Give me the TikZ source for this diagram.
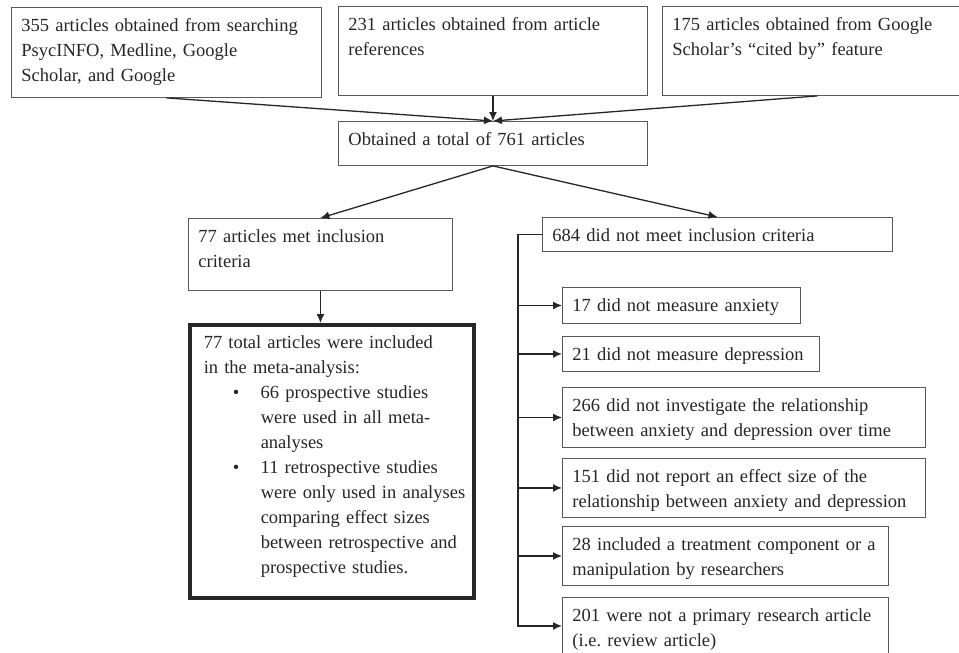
\documentclass[tikz,border=0pt]{standalone}
\usepackage{fontspec}
\setmainfont{Liberation Serif}
\usetikzlibrary{arrows.meta,positioning}
\newcommand{\bitem}{\makebox[57pt][l]{\hspace*{29pt}\textbullet}}
\newcommand{\bcont}{\hspace*{57pt}}

\begin{document}
\begin{tikzpicture}[x=1pt, y=-1pt,
  box/.style={draw=black!65, line width=0.9pt, anchor=north west, align=left,
              inner xsep=10pt, inner ysep=0pt, text height=24pt,
              font=\fontsize{18.5}{25}\selectfont, text=black!85},
  final/.style={box, draw=black!85, line width=3.5pt, inner xsep=14pt},
  arrow/.style={-{Latex[length=9pt,width=8pt]}, line width=1.3pt, black!85},
  link/.style={line width=1.3pt, black!85}
]
\useasboundingbox (0,0) rectangle (959,653);
\node[box, text width=290pt, text depth=66pt] (search) at (11,7)
  {355 articles obtained from searching\\PsycINFO, Medline, Google\\Scholar, and Google};
\node[box, text width=289pt, text depth=65pt] (refs) at (338,6)
  {231 articles obtained from article\\references};
\node[box, text width=290pt, text depth=65pt] (cited) at (662,6)
  {175 articles obtained from Google\\Scholar's ``cited by'' feature};
\node[box, text width=289pt, text depth=20pt] (total) at (338,121)
  {Obtained a total of 761 articles};
\node[box, text width=244pt, text depth=48pt] (met) at (188,218)
  {77 articles met inclusion\\criteria};
\node[final, text width=256pt, text depth=249pt] (incl) at (188,323)
  {77 total articles were included\\in the meta-analysis:\\
   \bitem 66 prospective studies\\\bcont were used in all meta-\\\bcont analyses\\
   \bitem 11 retrospective studies\\\bcont\mbox{were only used in analyses}\\
   \bcont comparing effect sizes\\\bcont between retrospective and\\
   \bcont prospective studies.};
\node[box, text width=330pt, text depth=10pt] (excl) at (542,217)
  {684 did not meet inclusion criteria};
\node[box, text width=218pt, text depth=12pt] (anx) at (562,287)
  {17 did not measure anxiety};
\node[box, text width=237pt, text depth=11pt] (dep) at (562,336)
  {21 did not measure depression};
\node[box, text width=343pt, text depth=36pt] (time) at (562,387)
  {266 did not investigate the relationship\\between anxiety and depression over time};
\node[box, text width=343pt, text depth=35pt] (effect) at (562,458)
  {151 did not report an effect size of the\\relationship between anxiety and depression};
\node[box, text width=306pt, text depth=35pt] (treat) at (562,526)
  {28 included a treatment component or a\\manipulation by researchers};
\node[box, text width=306pt, text depth=33pt] (review) at (562,597)
  {201 were not a primary research article\\(i.e.\ review article)};
\draw[arrow] (search.south) -- (total.north);
\draw[arrow] (refs.south) -- (total.north);
\draw[arrow] (cited.south) -- (total.north);
\draw[arrow] (total.south) -- (met.north);
\draw[arrow] (total.south) -- (excl.north);
\draw[arrow] (met.south) -- (met.south |- incl.north);
\draw[link] (excl.west) -- ++(-24,0) coordinate (spine);
\draw[arrow] (spine) |- (review.west);
\foreach \r in {anx,dep,time,effect,treat}
  \draw[arrow] (spine |- \r.west) -- (\r.west);
\end{tikzpicture}
\end{document}
